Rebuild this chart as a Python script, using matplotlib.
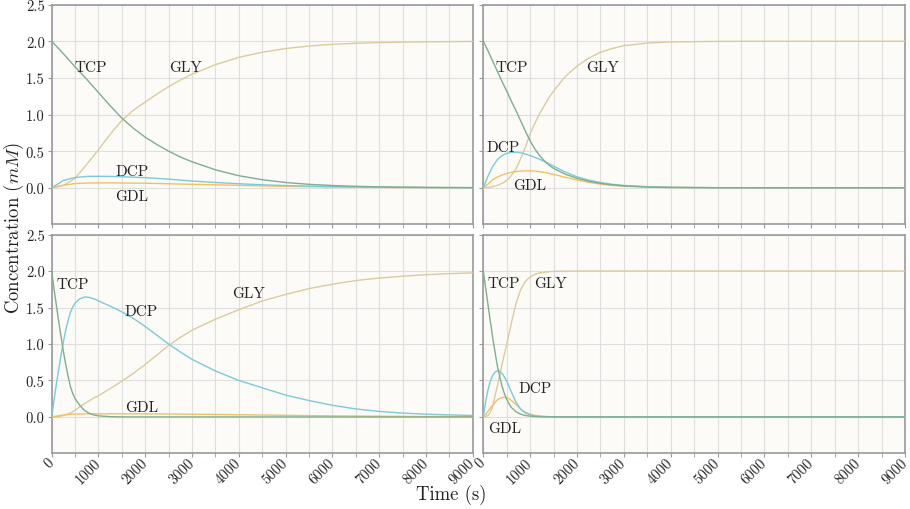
import matplotlib.pyplot as plt
from matplotlib.ticker import MultipleLocator

plt.rcParams['font.family'] = 'serif'
plt.rcParams['font.serif'] = ['cmr10']
plt.rcParams['mathtext.fontset'] = 'cm'
plt.rcParams['axes.formatter.use_mathtext'] = True

# panel A (top left)
t_a = [0, 250, 500, 750, 1000, 1250, 1500, 1750, 2000, 2250, 2500, 2750, 3000,
       3500, 4000, 4500, 5000, 5500, 6000, 6500, 7000, 7500, 8000, 8500, 9000]
tcp_a = [2.0, 1.83, 1.65, 1.48, 1.30, 1.12, 0.95, 0.81, 0.69, 0.59, 0.50, 0.42, 0.355,
         0.245, 0.165, 0.11, 0.072, 0.047, 0.031, 0.02, 0.013, 0.008, 0.005, 0.003, 0.002]
dcp_a = [0.0, 0.10, 0.14, 0.155, 0.157, 0.155, 0.15, 0.145, 0.138, 0.128, 0.118, 0.105, 0.092,
         0.072, 0.055, 0.041, 0.03, 0.022, 0.016, 0.011, 0.008, 0.006, 0.004, 0.003, 0.002]
gdl_a = [0.0, 0.035, 0.058, 0.065, 0.067, 0.067, 0.066, 0.064, 0.062, 0.059, 0.055, 0.051, 0.047,
         0.04, 0.033, 0.026, 0.02, 0.015, 0.011, 0.008, 0.006, 0.004, 0.003, 0.002, 0.001]
gly_a = [0.0, 0.03, 0.13, 0.32, 0.52, 0.73, 0.92, 1.06, 1.17, 1.28, 1.38, 1.47, 1.55,
         1.68, 1.78, 1.85, 1.90, 1.935, 1.958, 1.972, 1.982, 1.988, 1.992, 1.995, 1.997]

# panel B (top right)
t_b = [0, 100, 200, 300, 400, 500, 600, 700, 800, 900, 1000, 1100, 1200, 1300, 1400, 1500,
       1750, 2000, 2250, 2500, 2750, 3000, 3500, 4000, 5000, 6000, 7000, 8000, 9000]
tcp_b = [2.0, 1.87, 1.73, 1.59, 1.45, 1.32, 1.18, 1.05, 0.91, 0.77, 0.64, 0.53, 0.44, 0.37, 0.31, 0.265,
         0.185, 0.13, 0.09, 0.06, 0.04, 0.026, 0.011, 0.005, 0.001, 0.0, 0.0, 0.0, 0.0]
dcp_b = [0.0, 0.16, 0.29, 0.385, 0.44, 0.47, 0.482, 0.485, 0.477, 0.46, 0.44, 0.415, 0.39, 0.36, 0.33, 0.295,
         0.215, 0.15, 0.105, 0.072, 0.048, 0.032, 0.014, 0.006, 0.001, 0.0, 0.0, 0.0, 0.0]
gdl_b = [0.0, 0.05, 0.11, 0.145, 0.175, 0.195, 0.21, 0.222, 0.228, 0.231, 0.232, 0.228, 0.221, 0.21, 0.197, 0.182,
         0.143, 0.107, 0.075, 0.05, 0.033, 0.021, 0.009, 0.004, 0.001, 0.0, 0.0, 0.0, 0.0]
gly_b = [0.0, 0.005, 0.015, 0.033, 0.06, 0.10, 0.17, 0.26, 0.40, 0.56, 0.74, 0.88, 1.01, 1.12, 1.23, 1.32,
         1.52, 1.66, 1.77, 1.85, 1.90, 1.94, 1.975, 1.99, 1.998, 2.0, 2.0, 2.0, 2.0]

# panel C (bottom left)
t_c = [0, 50, 100, 150, 200, 250, 300, 350, 400, 450, 500, 600, 700, 800, 900, 1000, 1250,
       1500, 1750, 2000, 2250, 2500, 2750, 3000, 3500, 4000, 4500, 5000, 5500, 6000, 6500, 7000,
       7500, 8000, 8500, 9000]
tcp_c = [2.0, 1.76, 1.53, 1.31, 1.10, 0.90, 0.72, 0.56, 0.42, 0.32, 0.25, 0.16, 0.09, 0.05, 0.027, 0.015, 0.004,
         0.001, 0.0, 0.0, 0.0, 0.0, 0.0, 0.0, 0.0, 0.0, 0.0, 0.0, 0.0, 0.0, 0.0, 0.0,
         0.0, 0.0, 0.0, 0.0]
dcp_c = [0.0, 0.23, 0.45, 0.65, 0.85, 1.03, 1.19, 1.32, 1.43, 1.51, 1.56, 1.62, 1.645, 1.64, 1.62, 1.59, 1.52,
         1.44, 1.35, 1.24, 1.12, 1.0, 0.89, 0.79, 0.63, 0.50, 0.40, 0.30, 0.225, 0.16, 0.11, 0.076,
         0.053, 0.038, 0.028, 0.02]
gdl_c = [0.0, 0.005, 0.01, 0.016, 0.022, 0.026, 0.03, 0.033, 0.036, 0.038, 0.039, 0.041, 0.042, 0.043, 0.043, 0.043, 0.043,
         0.043, 0.042, 0.042, 0.041, 0.04, 0.039, 0.037, 0.034, 0.03, 0.026, 0.022, 0.018, 0.015, 0.012, 0.01,
         0.008, 0.006, 0.005, 0.004]
gly_c = [0.0, 0.001, 0.003, 0.007, 0.012, 0.02, 0.03, 0.042, 0.055, 0.07, 0.09, 0.14, 0.18, 0.22, 0.26, 0.29, 0.39,
         0.49, 0.60, 0.72, 0.85, 0.98, 1.09, 1.19, 1.34, 1.47, 1.59, 1.68, 1.76, 1.82, 1.87, 1.905,
         1.93, 1.95, 1.965, 1.975]

# panel D (bottom right)
t_d = [0, 50, 100, 150, 200, 250, 300, 350, 400, 450, 500, 550, 600, 700, 800, 900, 1000,
       1100, 1200, 1400, 1600, 2000, 3000, 4000, 5000, 6000, 7000, 8000, 9000]
tcp_d = [2.0, 1.77, 1.54, 1.31, 1.09, 0.89, 0.70, 0.55, 0.42, 0.32, 0.24, 0.18, 0.13, 0.07, 0.037, 0.02, 0.011,
         0.006, 0.003, 0.001, 0.0, 0.0, 0.0, 0.0, 0.0, 0.0, 0.0, 0.0, 0.0]
dcp_d = [0.0, 0.21, 0.37, 0.49, 0.57, 0.615, 0.632, 0.625, 0.595, 0.55, 0.49, 0.42, 0.34, 0.20, 0.105, 0.055, 0.028,
         0.014, 0.007, 0.002, 0.0, 0.0, 0.0, 0.0, 0.0, 0.0, 0.0, 0.0, 0.0]
gdl_d = [0.0, 0.035, 0.075, 0.12, 0.16, 0.20, 0.235, 0.255, 0.265, 0.27, 0.265, 0.25, 0.225, 0.17, 0.105, 0.065, 0.038,
         0.022, 0.013, 0.004, 0.001, 0.0, 0.0, 0.0, 0.0, 0.0, 0.0, 0.0, 0.0]
gly_d = [0.0, 0.005, 0.02, 0.06, 0.15, 0.29, 0.43, 0.57, 0.72, 0.86, 1.0, 1.14, 1.29, 1.56, 1.75, 1.86, 1.92,
         1.955, 1.975, 1.992, 1.998, 2.0, 2.0, 2.0, 2.0, 2.0, 2.0, 2.0, 2.0]

species = ['TCP', 'DCP', 'GDL', 'GLY']
colors = {'TCP': '#7fae8f', 'DCP': '#7ccad9', 'GDL': '#f3bf63', 'GLY': '#dccb9f'}

panels = [
    (t_a, {'TCP': tcp_a, 'DCP': dcp_a, 'GDL': gdl_a, 'GLY': gly_a}),
    (t_b, {'TCP': tcp_b, 'DCP': dcp_b, 'GDL': gdl_b, 'GLY': gly_b}),
    (t_c, {'TCP': tcp_c, 'DCP': dcp_c, 'GDL': gdl_c, 'GLY': gly_c}),
    (t_d, {'TCP': tcp_d, 'DCP': dcp_d, 'GDL': gdl_d, 'GLY': gly_d}),
]

# where the curve names sit (data coords)
label_pos = [
    {'TCP': (840, 1.65), 'GLY': (2870, 1.65), 'DCP': (1720, 0.23), 'GDL': (1720, -0.12)},
    {'TCP': (612, 1.65), 'GLY': (2540, 1.65), 'DCP': (420, 0.55), 'GDL': (1000, 0.04)},
    {'TCP': (455, 1.82), 'GLY': (4200, 1.70), 'DCP': (1920, 1.45), 'GDL': (1920, 0.13)},
    {'TCP': (427, 1.83), 'GLY': (1438, 1.83), 'DCP': (1103, 0.39), 'GDL': (448, -0.16)},
]

# axes boxes in figure fractions
boxes = [
    (0.0568, 0.558, 0.4627, 0.431),
    (0.5311, 0.558, 0.4634, 0.431),
    (0.0568, 0.109, 0.4627, 0.429),
    (0.5311, 0.109, 0.4634, 0.429),
]

fig = plt.figure(figsize=(9.1, 5.1), dpi=100)
fig.patch.set_facecolor('white')

for i, (t, series) in enumerate(panels):
    ax = fig.add_axes(boxes[i])
    ax.set_facecolor('#fcfbf8')
    for name in ['GLY', 'GDL', 'DCP', 'TCP']:
        ax.plot(t, series[name], color=colors[name], lw=1.0, zorder=3)
    for name in species:
        x, y = label_pos[i][name]
        ax.text(x, y, name, ha='center', va='center', fontsize=11, color='#222222', zorder=4)

    ax.set_xlim(0, 9000)
    ax.set_ylim(-0.5, 2.5)
    ax.xaxis.set_major_locator(MultipleLocator(1000))
    ax.xaxis.set_minor_locator(MultipleLocator(500))
    ax.set_yticks([0.0, 0.5, 1.0, 1.5, 2.0, 2.5])
    ax.grid(True, which='both', color='#dedede', lw=0.8, zorder=0)
    ax.set_axisbelow(True)
    for s in ax.spines.values():
        s.set_color('#9a9a9a')
        s.set_linewidth(1.2)
    ax.tick_params(which='both', length=3, color='#9a9a9a', labelsize=10.5,
                   labelcolor='#222222', pad=2)

    if i < 2:
        ax.tick_params(axis='x', labelbottom=False)
    else:
        ax.set_xticklabels([str(int(v)) for v in ax.get_xticks()])
        for lab in ax.get_xticklabels():
            lab.set_rotation(45)
            lab.set_ha('right')
            lab.set_va('center')
            lab.set_rotation_mode('anchor')
    if i % 2 == 1:
        ax.tick_params(axis='y', labelleft=False)
    else:
        ax.set_yticklabels(['%.1f' % v for v in [0.0, 0.5, 1.0, 1.5, 2.0, 2.5]])

fig.text(0.015, 0.553, 'Concentration ($mM$)', rotation=90, ha='center', va='center',
         fontsize=13.5, color='#222222')
fig.text(0.496, 0.029, 'Time (s)', ha='center', va='center', fontsize=13.5, color='#222222')

fig.savefig('out.png', dpi=100, facecolor='white')
